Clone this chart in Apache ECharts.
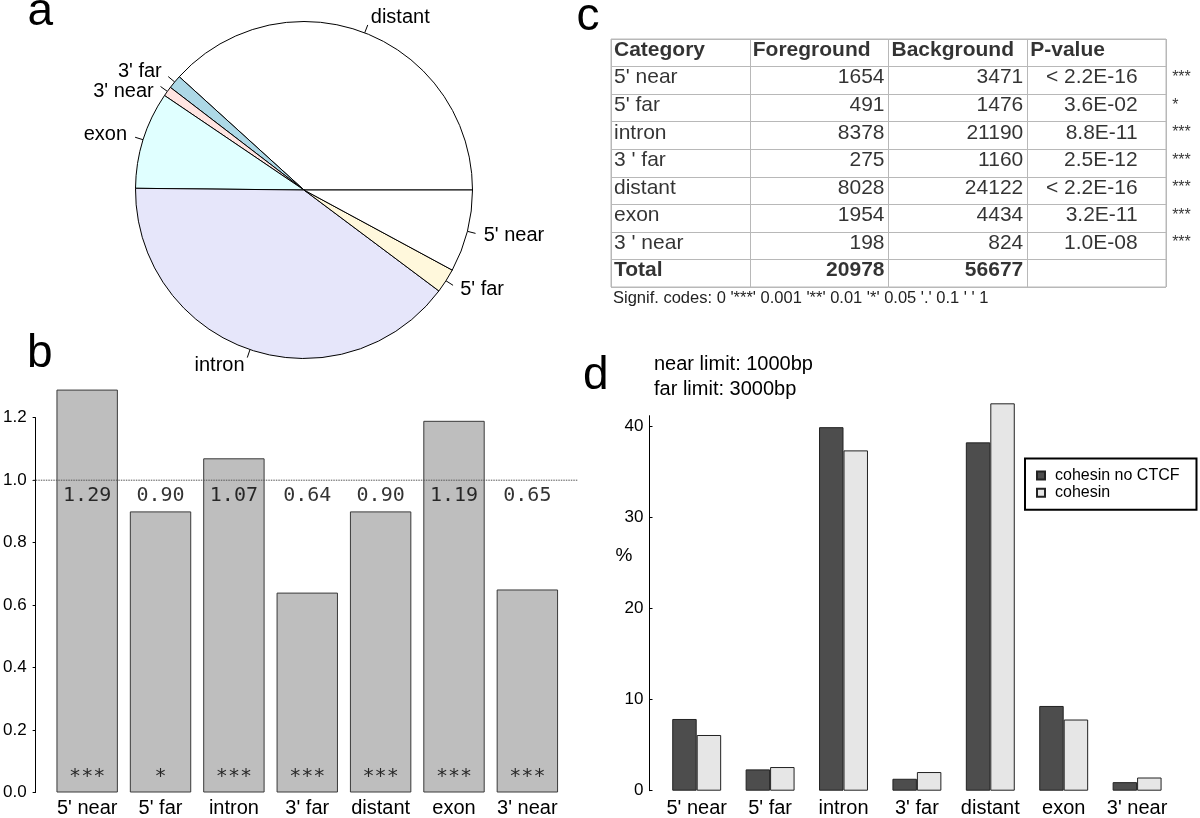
<!DOCTYPE html>
<html><head><meta charset="utf-8">
<script src="https://cdn.jsdelivr.net/npm/echarts@6/dist/echarts.min.js"></script>
<style>html,body{margin:0;padding:0;background:#fff}#c{width:1200px;height:818px}</style>
</head><body><div id="c"></div>
<script>
// ---------------- data ----------------
const categories = ["5' near", "5' far", "intron", "3' far", "distant", "exon", "3' near"];
const tableCategories = ["5' near", "5' far", "intron", "3 ' far", "distant", "exon", "3 ' near"];
const tableHeader = ["Category", "Foreground", "Background", "P-value"];
const foreground = [1654, 491, 8378, 275, 8028, 1954, 198];
const background = [3471, 1476, 21190, 1160, 24122, 4434, 824];
const pValues = ["< 2.2E-16", "3.6E-02", "8.8E-11", "2.5E-12", "< 2.2E-16", "3.2E-11", "1.0E-08"];
const signif = ["***", "*", "***", "***", "***", "***", "***"];
const totalLabel = "Total";
const totals = [20978, 56677];
const signifNote = "Signif. codes: 0 '***' 0.001 '**' 0.01 '*' 0.05 '.' 0.1 ' ' 1";

const ratios = [1.29, 0.90, 1.07, 0.64, 0.90, 1.19, 0.65];
const ratioTicks = [0, 0.2, 0.4, 0.6, 0.8, 1.0, 1.2];
const nullRatio = 1;

const pctNoCTCF = [7.88, 2.34, 39.94, 1.31, 38.27, 9.31, 0.94];
const pctCohesin = [6.12, 2.60, 37.39, 2.05, 42.56, 7.82, 1.45];
const pctTicks = [0, 10, 20, 30, 40];
const seriesNames = ["cohesin no CTCF", "cohesin"];
const limitNotes = ["near limit: 1000bp", "far limit: 3000bp"];

const pieOrder = ["distant", "3' far", "3' near", "exon", "intron", "5' far", "5' near"];
const pieColors = ["#ffffff", "#add8e6", "#ffe4e1", "#e0ffff", "#e6e6fa", "#fff8dc", "#ffffff"];
const panelLetters = ["a", "b", "c", "d"];

// ---------------- layout / style ----------------
const FONT = "'Liberation Sans', Arial, sans-serif";
const MONO = "'DejaVu Sans Mono', monospace";
const letterPos = [[27.5, 12], [27, 354], [576.5, 17], [583, 376]];
const PIE_R = 168.5;

const tbl = { left: 611, top: 39, width: 555, height: 248 };
const colHalf = tbl.width / tableHeader.length / 2;
const tableRows = ["header"].concat(tableCategories, [totalLabel]);
function cell(c, r, text, align, dx, bold, size, dyExtra) {
  return { value: [c, r], text: text,
    label: { align: align, offset: [dx, -2.7 + (dyExtra || 0)], fontWeight: bold ? 'bold' : 'normal', fontSize: size || 21 } };
}
const tableItems = [];
tableHeader.forEach((h, c) => tableItems.push(cell(c, 0, h, 'left', -colHalf + 3, true)));
tableCategories.forEach((name, i) => {
  const r = i + 1;
  tableItems.push(cell(0, r, name, 'left', -colHalf + 3, false));
  tableItems.push(cell(1, r, String(foreground[i]), 'right', colHalf - 4, false));
  tableItems.push(cell(2, r, String(background[i]), 'right', colHalf - 4, false));
  tableItems.push(cell(3, r, pValues[i], 'right', 41, false));
  tableItems.push(cell(3, r, signif[i], 'left', 75.5, false, 16));
});
tableItems.push(cell(0, 8, totalLabel, 'left', -colHalf + 3, true));
tableItems.push(cell(1, 8, String(totals[0]), 'right', colHalf - 4, true));
tableItems.push(cell(2, 8, String(totals[1]), 'right', colHalf - 4, true));

const pieData = pieOrder.map((n, i) => ({
  name: n, value: foreground[categories.indexOf(n)], itemStyle: { color: pieColors[i] }
}));

const gridLine = { show: true, interval: 0, lineStyle: { color: '#b8b8b8', width: 1 } };

const option = {
  animation: false,
  backgroundColor: '#ffffff',
  textStyle: { fontFamily: FONT, color: '#000' },
  grid: [
    { left: 48.15, top: 417.7, width: 515.9, height: 375 },            // b
    { left: 33.3, top: 417.7, width: 545, height: 375 },               // b reference line
    { left: 660, top: 415.7, width: 513.8, height: 377 },              // d
    { left: tbl.left, top: tbl.top, width: tbl.width, height: tbl.height, show: true,
      borderColor: '#b8b8b8', borderWidth: 1, backgroundColor: 'transparent' } // c
  ],
  xAxis: [
    { type: 'category', gridIndex: 0, data: categories, axisLine: { show: false }, axisTick: { show: false },
      axisLabel: { interval: 0, fontSize: 20, margin: 5.5, color: '#000', fontFamily: FONT } },
    { type: 'value', gridIndex: 1, min: 0, max: 1, show: false },
    { type: 'category', gridIndex: 2, data: categories, axisLine: { show: false }, axisTick: { show: false },
      axisLabel: { interval: 0, fontSize: 20, margin: 7.3, color: '#000', fontFamily: FONT } },
    { type: 'category', gridIndex: 3, data: tableHeader, boundaryGap: true, axisLine: { show: false },
      axisTick: { show: false }, axisLabel: { show: false }, splitLine: gridLine }
  ],
  yAxis: [
    { type: 'value', gridIndex: 0, min: 0, max: 1.2, interval: 0.2, offset: 14.85,
      axisLine: { show: true, lineStyle: { color: '#000', width: 1 } },
      axisTick: { show: true, length: 3, customValues: ratioTicks, lineStyle: { color: '#000' } },
      axisLabel: { customValues: ratioTicks, fontSize: 17, margin: 9, color: '#000', fontFamily: FONT,
        formatter: v => v.toFixed(1) },
      splitLine: { show: false } },
    { type: 'value', gridIndex: 1, min: 0, max: 1.2, show: false },
    { type: 'value', gridIndex: 2, min: 0, max: 41.2, interval: 10, offset: 10.5,
      axisLine: { show: true, lineStyle: { color: '#000', width: 1 } },
      axisTick: { show: true, inside: true, length: 3, customValues: pctTicks, lineStyle: { color: '#000' } },
      axisLabel: { customValues: pctTicks, fontSize: 17, margin: 6, color: '#000', fontFamily: FONT },
      splitLine: { show: false },
      name: '%', nameLocation: 'middle', nameRotate: 0, nameGap: 17, nameMoveOverlap: false,
      nameTextStyle: { fontSize: 19, color: '#000', fontFamily: FONT, verticalAlign: 'bottom', lineHeight: 95 } },
    { type: 'category', gridIndex: 3, data: tableRows, inverse: true, boundaryGap: true,
      axisLine: { show: false }, axisTick: { show: false }, axisLabel: { show: false }, splitLine: gridLine }
  ],
  legend: {
    data: seriesNames, orient: 'vertical', left: 1025, top: 458.5,
    itemWidth: 8, itemHeight: 8, itemGap: 1.3, icon: 'rect',
    borderColor: '#000', borderWidth: 2, borderRadius: 0, padding: [9, 17, 9, 11],
    textStyle: { fontSize: 16, lineHeight: 16, color: '#000', fontFamily: FONT, padding: [0, 0, 0, 5] }
  },
  graphic: panelLetters.map((t, i) => ({
    type: 'text', x: letterPos[i][0], y: letterPos[i][1], silent: true,
    style: { text: t, fontSize: 46, fontFamily: FONT, fill: '#000', align: 'left', verticalAlign: 'middle' }
  })).concat(limitNotes.map((t, i) => ({
    type: 'text', x: 654, y: 364 + 25 * i, silent: true,
    style: { text: t, fontSize: 20, fontFamily: FONT, fill: '#000', align: 'left', verticalAlign: 'middle' }
  }))).concat([{
    type: 'text', x: 613, y: 298, silent: true,
    style: { text: signifNote, fontSize: 16.5, fontFamily: FONT, fill: '#222', align: 'left', verticalAlign: 'middle' }
  }]),
  series: [
    // panel a
    { type: 'pie', center: [304, 190], radius: PIE_R, startAngle: 0, clockwise: false,
      avoidLabelOverlap: false, silent: true, data: pieData,
      itemStyle: { borderColor: '#000', borderWidth: 1 },
      label: { show: true, position: 'outside', formatter: '{b}', fontSize: 20, color: '#000',
        fontFamily: FONT, distanceToLabelLine: 0, lineHeight: 20 },
      labelLine: { show: true, length: PIE_R * 0.05, length2: 0, smooth: false, lineStyle: { color: '#000', width: 1 } },
      labelLayout: function (p) {
        const pts = p.labelLinePoints;
        if (!pts || pts.length < 2) return {};
        const dx = pts[1][0] - pts[0][0], dy = pts[1][1] - pts[0][1];
        const L = Math.hypot(dx, dy) || 1;
        return { dx: dx / L * PIE_R * 0.05, dy: dy / L * PIE_R * 0.05, moveOverlap: 'shiftY' };
      },
      emphasis: { disabled: true } },
    // panel b
    { type: 'bar', xAxisIndex: 0, yAxisIndex: 0, data: ratios, barWidth: 61.4, clip: false, silent: true,
      itemStyle: { color: '#bebebe', borderColor: '#3a3a3a', borderWidth: 1 } },
    { type: 'line', xAxisIndex: 1, yAxisIndex: 1, data: [[0, nullRatio], [1, nullRatio]], symbol: 'none', silent: true,
      lineStyle: { color: '#555', width: 1, type: [1.5, 1] }, z: 5 },
    { type: 'scatter', xAxisIndex: 0, yAxisIndex: 0, silent: true, z: 6,
      data: ratios.map((v, i) => [i, 0.95]), symbolSize: 1, itemStyle: { color: 'rgba(0,0,0,0)' },
      label: { show: true, position: 'inside', color: '#000', textBorderWidth: 0, fontFamily: MONO, fontSize: 20,
        formatter: p => ratios[p.dataIndex].toFixed(2) } },
    { type: 'scatter', xAxisIndex: 0, yAxisIndex: 0, silent: true, z: 6,
      data: signif.map((s, i) => [i, 0.05]), symbolSize: 1, itemStyle: { color: 'rgba(0,0,0,0)' },
      label: { show: true, position: 'inside', color: '#000', textBorderWidth: 0, fontFamily: MONO, fontSize: 20,
        formatter: p => signif[p.dataIndex] } },
    // panel d
    { type: 'bar', name: seriesNames[0], xAxisIndex: 2, yAxisIndex: 2, data: pctNoCTCF, barWidth: 24.47, barGap: '0%',
      clip: false, silent: true, itemStyle: { color: '#4d4d4d', borderColor: '#222', borderWidth: 1 } },
    { type: 'bar', name: seriesNames[1], xAxisIndex: 2, yAxisIndex: 2, data: pctCohesin, barWidth: 24.47, barGap: '0%',
      clip: false, silent: true, itemStyle: { color: '#e6e6e6', borderColor: '#222', borderWidth: 1 } },
    // panel c (table)
    { type: 'scatter', xAxisIndex: 3, yAxisIndex: 3, silent: true, symbolSize: 1,
      itemStyle: { color: 'rgba(0,0,0,0)' }, data: tableItems,
      label: { show: true, position: 'inside', color: '#000', textBorderWidth: 0, fontFamily: FONT, fontSize: 21,
        formatter: p => p.data.text } }
  ]
};
const chart = echarts.init(document.getElementById('c'), null, { renderer: 'canvas' });
chart.setOption(option);
</script>
</body></html>
